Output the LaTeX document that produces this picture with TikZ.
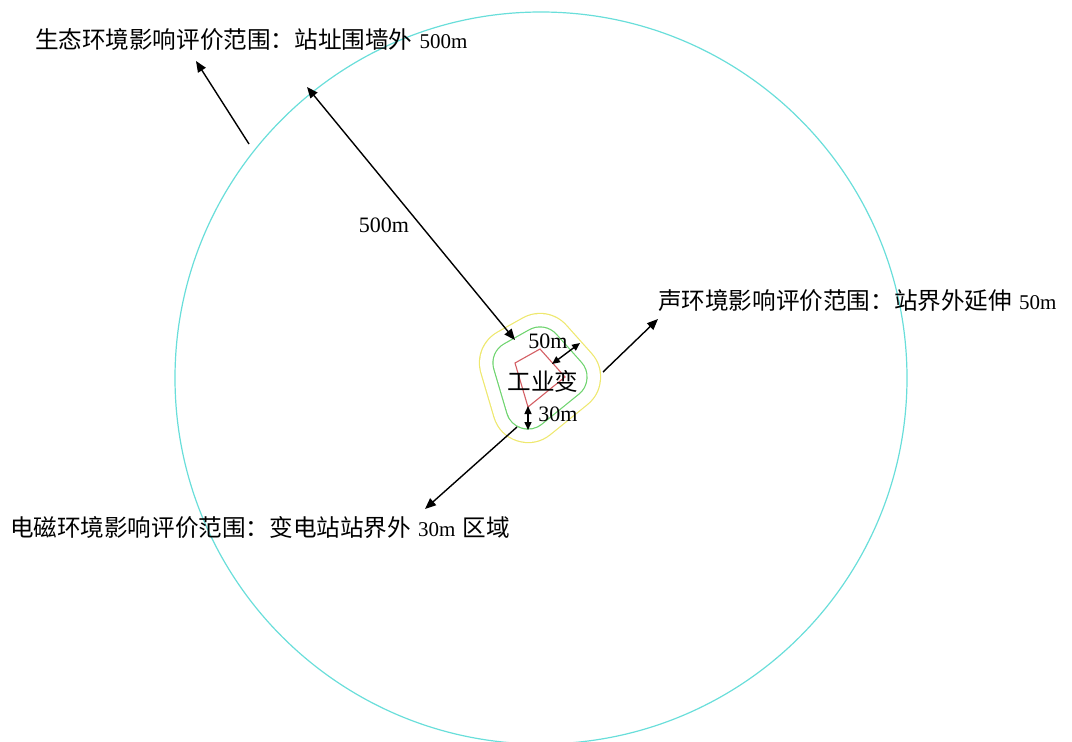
\documentclass[tikz,border=0pt]{standalone}
\usepackage{fontspec}
\setmainfont{Liberation Serif}
\newfontfamily\cjk{Noto Sans CJK SC}
\usetikzlibrary{arrows.meta}
\definecolor{cyanc}{RGB}{105,222,218}
\definecolor{yelc}{RGB}{238,232,110}
\definecolor{grnc}{RGB}{110,212,110}
\definecolor{redc}{RGB}{212,95,100}
\newcommand{\zh}[1]{{\cjk\fontsize{23.6}{26}\selectfont #1}}
\newcommand{\la}[1]{{\fontsize{21}{26}\selectfont #1}}
\newcommand{\lb}[1]{{\fontsize{22}{26}\selectfont #1}}
\newcommand{\gap}{\hspace{7pt}}
\tikzset{
  ptr/.style={line width=1.4pt, -{Triangle[length=11pt,width=9pt]}},
  dptr/.style={line width=1.4pt, {Triangle[length=11pt,width=9pt]}-{Triangle[length=11pt,width=9pt]}},
  sdptr/.style={line width=1.4pt, {Triangle[length=8pt,width=7pt]}-{Triangle[length=8pt,width=7pt]}},
  lbl/.style={inner sep=0pt, outer sep=0pt, text=black}
}
\begin{document}
\begin{tikzpicture}[x=1pt,y=-1pt]
\useasboundingbox (0,0) rectangle (1072,742);
\clip (0,0) rectangle (1072,742);
% big circle
\draw[cyanc, line width=1.2pt] (541,378) circle[radius=366];
% yellow offset ring
\filldraw[draw=yelc, fill=yelc, line width=72.2pt, line join=round] (515,363) -- (540,349) -- (565,377) -- (528,407) -- cycle;
\filldraw[white, line width=69.8pt, line join=round] (515,363) -- (540,349) -- (565,377) -- (528,407) -- cycle;
% green offset ring
\filldraw[draw=grnc, fill=grnc, line width=45.2pt, line join=round] (515,363) -- (540,349) -- (565,377) -- (528,407) -- cycle;
\filldraw[white, line width=42.8pt, line join=round] (515,363) -- (540,349) -- (565,377) -- (528,407) -- cycle;
% red station outline
\draw[redc, line width=1.1pt] (515,363) -- (540,349) -- (565,377) -- (528,407) -- cycle;

% texts
\node[lbl, anchor=west] (eco) at (35,40) {\zh{生态环境影响评价范围：站址围墙外}\gap\la{500m}};
\node[lbl, anchor=west] (snd) at (658,301) {\zh{声环境影响评价范围：站界外延伸}\gap\la{50m}};
\node[lbl, anchor=west] (em) at (10,528) {\zh{电磁环境影响评价范围：变电站站界外}\gap\la{30m}\gap\zh{区域}};
\node[lbl] (st) at (543,381) {\zh{工业变}};
\node[lbl] (l500) at (384,225) {\lb{500m}};
\node[lbl] (l50) at (548,341) {\lb{50m}};
\node[lbl] (l30) at (558,414) {\lb{30m}};

% connector coordinates
\coordinate (ecoT) at (196,61);
\coordinate (ecoS) at (249,144);
\coordinate (r1) at (307,87);
\coordinate (r2) at (515,340);
\coordinate (sndS) at (603,372);
\coordinate (sndT) at (658,319);
\coordinate (emS) at (517,427);
\coordinate (emT) at (425,509);
\coordinate (a1) at (580,343);
\coordinate (a2) at (552,364);
\coordinate (b1) at (528,406);
\coordinate (b2) at (528,430);

\draw[ptr] (ecoS) -- (ecoT);
\draw[dptr] (r1) -- (r2);
\draw[ptr] (sndS) -- (sndT);
\draw[ptr] (emS) -- (emT);
\draw[sdptr] (a1) -- (a2);
\draw[sdptr] (b1) -- (b2);
\end{tikzpicture}
\end{document}
